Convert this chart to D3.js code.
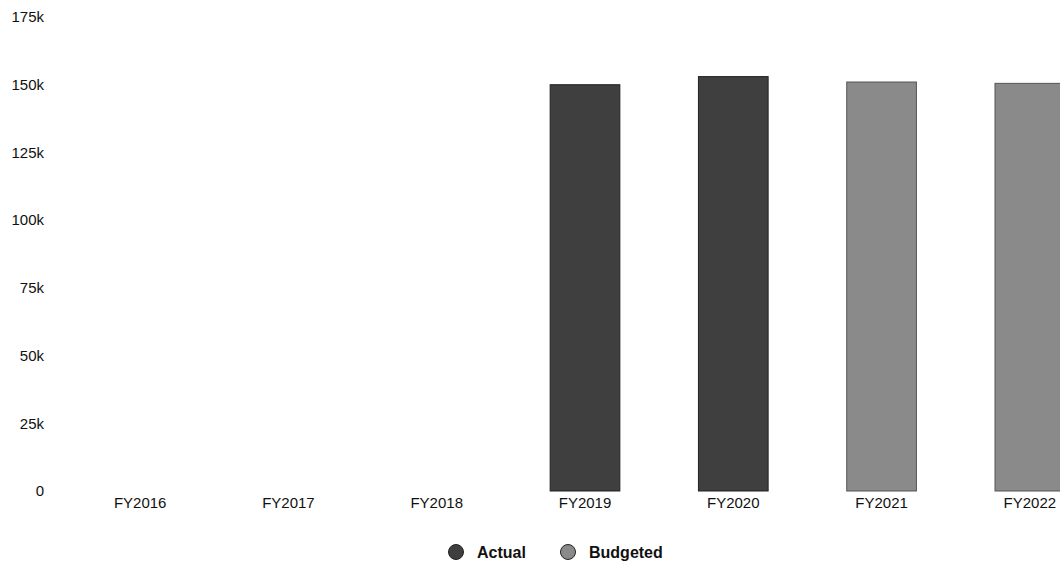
<!DOCTYPE html>
<html>
<head>
<meta charset="utf-8">
<script src="https://cdn.jsdelivr.net/npm/d3@7"></script>
<style>
  html, body { margin: 0; padding: 0; background: #fff; }
  svg { display: block; }
  text { font-family: "Liberation Sans", Arial, sans-serif; fill: #111; }
</style>
</head>
<body>
<svg id="chart" width="1060" height="567"></svg>
<script>
const categories = ["FY2016", "FY2017", "FY2018", "FY2019", "FY2020", "FY2021", "FY2022"];
const actual   = [null, null, null, 150000, 153000, null, null];
const budgeted = [null, null, null, null, null, 151000, 150500];
const yTicks = [0, 25000, 50000, 75000, 100000, 125000, 150000, 175000];
const seriesNames = ["Actual", "Budgeted"];
const seriesColors = ["#3f3f3f", "#8a8a8a"];

const svg = d3.select("#chart");
const x = d3.scaleBand().domain(categories).range([66, 1104]).paddingInner(0.53).paddingOuter(0.265);
const y = d3.scaleLinear().domain([0, 175000]).range([491, 17]);

// y axis labels
const yAxis = d3.axisLeft(y).tickValues(yTicks).tickSize(0).tickPadding(0)
  .tickFormat(d => d === 0 ? "0" : (d / 1000) + "k");
const gy = svg.append("g").attr("transform", "translate(44,0)").call(yAxis);
gy.select(".domain").remove();
gy.selectAll("text").style("font-size", "15px").style("font-family", "'Liberation Sans', Arial, sans-serif").attr("fill", "#111");

// x axis labels
const xAxis = d3.axisBottom(x).tickSize(0).tickPadding(0);
const gx = svg.append("g").attr("transform", "translate(0,497)").call(xAxis);
gx.select(".domain").remove();
gx.selectAll("text").style("font-size", "15px").style("font-family", "'Liberation Sans', Arial, sans-serif").attr("fill", "#111");

// bars
const rows = categories.map((c, i) => {
  const isA = actual[i] != null;
  const v = isA ? actual[i] : budgeted[i];
  return { c, v, s: isA ? 0 : 1 };
}).filter(d => d.v != null);

svg.append("g").selectAll("rect").data(rows).join("rect")
  .attr("x", d => x(d.c))
  .attr("width", x.bandwidth())
  .attr("y", d => y(d.v))
  .attr("height", d => y(0) - y(d.v))
  .attr("fill", d => seriesColors[d.s])
  .attr("stroke", d => d.s === 0 ? "#222" : "#555")
  .attr("stroke-width", 1);

// legend
const legend = svg.append("g");
const legendX = [456, 568];
seriesNames.forEach((n, i) => {
  legend.append("circle").attr("cx", legendX[i]).attr("cy", 552).attr("r", 7.5)
    .attr("fill", seriesColors[i]).attr("stroke", "#222").attr("stroke-width", 1);
  legend.append("text").attr("x", legendX[i] + 21).attr("y", 558)
    .style("font-size", "16px").style("font-weight", "bold").text(n);
});
</script>
</body>
</html>
